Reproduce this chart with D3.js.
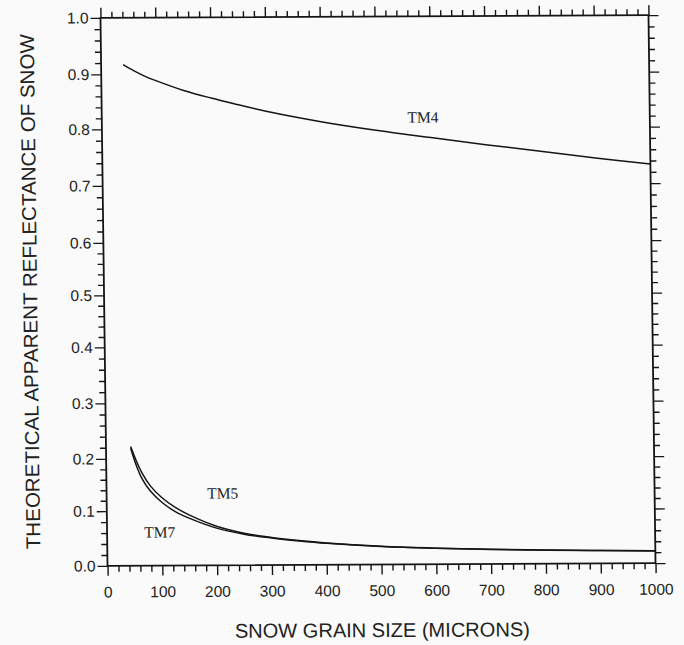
<!DOCTYPE html>
<html>
<head>
<meta charset="utf-8">
<script src="https://cdn.jsdelivr.net/npm/d3@7"></script>
<style>
  html, body { margin: 0; padding: 0; background: #f9faf9; }
  svg { display: block; }
</style>
</head>
<body>
<svg id="chart" width="684" height="645"></svg>
<script>
// Snow grain size (microns) and theoretical apparent reflectance per TM band
const grainTM4 = [40, 60, 80, 100, 150, 200, 250, 300, 400, 500, 600, 700, 800, 900, 1000];
const reflTM4  = [0.917, 0.906, 0.896, 0.888, 0.870, 0.856, 0.8435, 0.8315, 0.812, 0.796, 0.7825, 0.7695, 0.7575, 0.745, 0.734];

const grainTM57 = [45, 55, 65, 80, 100, 125, 150, 200, 250, 300, 350, 400, 500, 600, 700, 800, 900, 1000];
const reflTM5   = [0.222, 0.196, 0.173, 0.148, 0.126, 0.1065, 0.0925, 0.0715, 0.0585, 0.0505, 0.0445, 0.0398, 0.0333, 0.0294, 0.0268, 0.0250, 0.0237, 0.0227];
const reflTM7   = [0.219, 0.187, 0.162, 0.138, 0.117, 0.0985, 0.0865, 0.0680, 0.0567, 0.0495, 0.0439, 0.0393, 0.0329, 0.0291, 0.0265, 0.0247, 0.0234, 0.0224];

// Band labels: name, grain size, reflectance where the label sits
const bandNames  = ["TM4", "TM5", "TM7"];
const labelGrain = [586, 212, 96];
const labelRefl  = [0.8196, 0.1337, 0.0614];

// Axis ticks
const xMajor = d3.range(0, 1001, 100);
const xMinor = d3.range(0, 1001, 20).filter(v => v % 100 !== 0);
const yMajor = d3.range(0, 11).map(i => i / 10);
const yMinor = d3.range(0, 51).map(i => i / 50).filter((v, i) => i % 5 !== 0);

const xTitle = "SNOW GRAIN SIZE (MICRONS)";
const yTitle = "THEORETICAL APPARENT REFLECTANCE OF SNOW";

// frame and the hand-ruled spacing of the reflectance divisions (0.0 … 1.0)
const plotLeft = 104, plotRight = 652, plotTop = 16.5, plotBottom = 564.5;
const yRule = [564.5, 509.8, 457.5, 402, 346, 294, 241.5, 184.5, 128, 73, 16.5];

const x = d3.scaleLinear().domain([0, 1000]).range([plotLeft, plotRight]);
const y = d3.scaleLinear().domain(yMajor).range(yRule);

const svg = d3.select("#chart");
svg.append("rect").attr("width", 684).attr("height", 645).attr("fill", "#f9faf9");

// slight skew of the printed plate
const g = svg.append("g")
  .attr("transform", "translate(378,290.5) matrix(1,-0.005,0.0128,1,0,0) translate(-378,-290.5)");

const ink = "#151515";
const sansFont = "'Liberation Sans', Arial, sans-serif";
const serifFont = "'Liberation Serif', 'Times New Roman', serif";

function styleAxis(sel) {
  sel.select(".domain").remove();
  sel.selectAll(".tick line").attr("stroke", ink).attr("stroke-width", 1.4);
  sel.selectAll(".tick text")
    .attr("fill", "#222")
    .style("font-family", sansFont)
    .style("font-size", "15.5px");
}

// bottom
g.append("g").attr("transform", `translate(0,${plotBottom})`)
  .call(d3.axisBottom(x).tickValues(xMajor).tickSize(10).tickPadding(10.5).tickFormat(d3.format("d")).tickSizeOuter(0))
  .call(styleAxis);
g.append("g").attr("transform", `translate(0,${plotBottom})`)
  .call(d3.axisBottom(x).tickValues(xMinor).tickSize(6).tickFormat("").tickSizeOuter(0))
  .call(styleAxis);
// top
g.append("g").attr("transform", `translate(0,${plotTop})`)
  .call(d3.axisTop(x).tickValues(xMajor).tickSize(10).tickFormat("").tickSizeOuter(0))
  .call(styleAxis);
g.append("g").attr("transform", `translate(0,${plotTop})`)
  .call(d3.axisTop(x).tickValues(xMinor).tickSize(6).tickFormat("").tickSizeOuter(0))
  .call(styleAxis);
// left
g.append("g").attr("transform", `translate(${plotLeft},0)`)
  .call(d3.axisLeft(y).tickValues(yMajor).tickSize(10).tickPadding(2).tickFormat(d3.format(".1f")).tickSizeOuter(0))
  .call(styleAxis);
g.append("g").attr("transform", `translate(${plotLeft},0)`)
  .call(d3.axisLeft(y).tickValues(yMinor).tickSize(6).tickFormat("").tickSizeOuter(0))
  .call(styleAxis);
// right
g.append("g").attr("transform", `translate(${plotRight},0)`)
  .call(d3.axisRight(y).tickValues(yMajor).tickSize(10).tickFormat("").tickSizeOuter(0))
  .call(styleAxis);
g.append("g").attr("transform", `translate(${plotRight},0)`)
  .call(d3.axisRight(y).tickValues(yMinor).tickSize(6).tickFormat("").tickSizeOuter(0))
  .call(styleAxis);

// frame
g.append("rect")
  .attr("x", plotLeft).attr("y", plotTop)
  .attr("width", plotRight - plotLeft).attr("height", plotBottom - plotTop)
  .attr("fill", "none").attr("stroke", ink).attr("stroke-width", 1.8);

// curves
const line = d3.line().x(d => x(d[0])).y(d => y(d[1])).curve(d3.curveCatmullRom.alpha(0.5));
const series = [
  d3.zip(grainTM4, reflTM4),
  d3.zip(grainTM57, reflTM5),
  d3.zip(grainTM57, reflTM7)
];
g.selectAll("path.curve").data(series).join("path")
  .attr("class", "curve")
  .attr("d", line)
  .attr("fill", "none")
  .attr("stroke", ink)
  .attr("stroke-width", 1.5);

// band labels
g.selectAll("text.band").data(bandNames).join("text")
  .attr("class", "band")
  .attr("x", (d, i) => x(labelGrain[i]))
  .attr("y", (d, i) => y(labelRefl[i]) + 5.5)
  .attr("text-anchor", "middle")
  .attr("fill", "#222")
  .style("font-family", serifFont)
  .style("font-size", "15.5px")
  .text(d => d);

// axis titles
g.append("text")
  .attr("x", 378).attr("y", 637)
  .attr("text-anchor", "middle")
  .attr("textLength", 295).attr("lengthAdjust", "spacingAndGlyphs")
  .attr("fill", "#222")
  .style("font-family", sansFont)
  .style("font-size", "20px")
  .text(xTitle);

g.append("text")
  .attr("transform", "translate(37,290) rotate(-90)")
  .attr("text-anchor", "middle")
  .attr("textLength", 515).attr("lengthAdjust", "spacingAndGlyphs")
  .attr("fill", "#222")
  .style("font-family", sansFont)
  .style("font-size", "20px")
  .text(yTitle);
</script>
</body>
</html>
